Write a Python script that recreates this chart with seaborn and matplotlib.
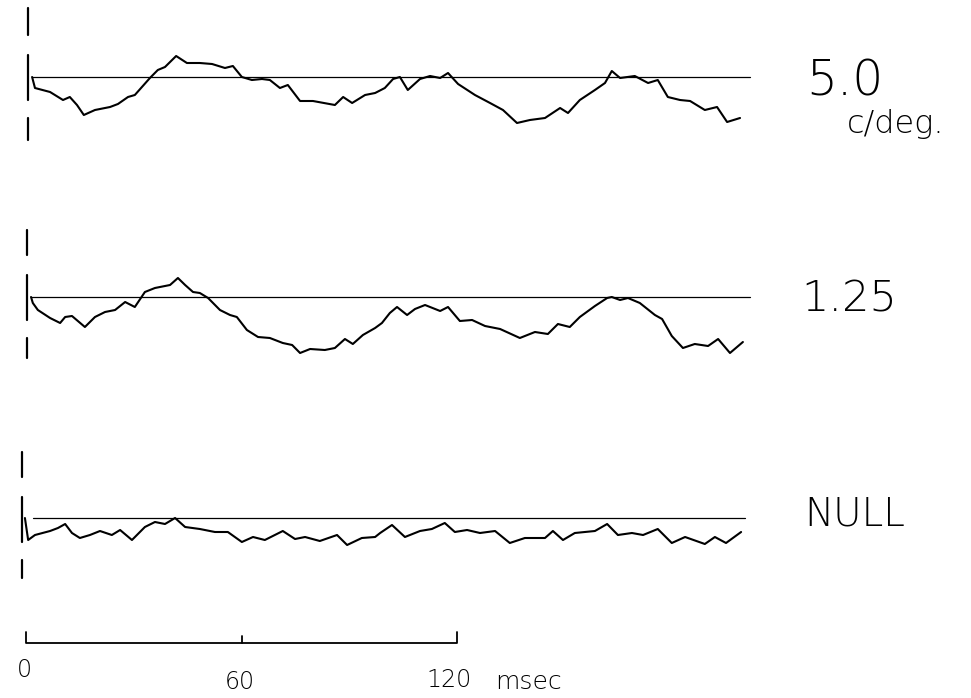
import numpy as np
import pandas as pd
import matplotlib
matplotlib.use("Agg")
import matplotlib.pyplot as plt
import seaborn as sns

# ---- data (time in msec, response amplitude in arbitrary units, up = positive) ----
t_50 = [1.7, 2.5, 6.7, 10.3, 12.2, 14.2, 16.1, 19.2, 23.4, 25.6, 28.4, 30.3, 34.5, 36.7,
        38.7, 41.8, 44.8, 48.4, 51.8, 55.4, 57.6, 60.1, 62.9, 65.7, 67.9, 70.7, 72.9,
        76.3, 79.9, 86.0, 88.3, 90.8, 94.4, 97.2, 99.9, 102.2, 104.1, 106.3, 109.7,
        112.5, 115.3, 117.5, 120.3, 125.0, 129.2, 132.8, 136.7, 140.3, 144.5, 148.7,
        150.9, 154.2, 158.4, 161.2, 163.1, 165.4, 169.5, 173.2, 175.9, 178.7, 182.1,
        184.9, 189.0, 192.4, 195.2, 198.8]
a_50 = [0, -11, -15, -23, -20, -28, -38, -33, -30, -27, -20, -18, -1, 7,
        10, 21, 14, 14, 13, 9, 11, 0, -3, -2, -3, -11, -8,
        -24, -24, -28, -20, -26, -18, -16, -11, -2, 0, -13, -2,
        1, -1, 4, -7, -18, -26, -33, -46, -43, -41, -31,
        -36, -23, -13, -6, 6, -1, 1, -6, -3, -20, -23,
        -24, -33, -30, -45, -41]

t_125 = [1.4, 1.9, 3.3, 6.7, 9.5, 10.9, 12.8, 16.4, 19.2, 22.0, 24.8, 27.6, 30.3, 33.1,
         35.9, 40.1, 42.3, 44.3, 46.5, 48.4, 50.7, 54.0, 56.8, 58.7, 61.5, 64.6, 67.9,
         71.5, 74.1, 76.3, 79.1, 83.2, 86.0, 88.8, 91.0, 93.8, 97.2, 99.1, 101.3, 103.3,
         106.1, 108.3, 111.1, 115.3, 117.5, 120.8, 124.2, 127.8, 132.0, 137.5, 141.7,
         145.3, 148.1, 151.4, 154.2, 158.4, 161.8, 163.1, 165.4, 167.6, 170.9, 175.1,
         177.1, 179.8, 182.9, 186.2, 189.9, 192.7, 196.0, 199.6]
a_125 = [0, -6, -13, -21, -26, -20, -19, -30, -20, -15, -13, -5, -10, 5,
         9, 12, 19, 12, 5, 4, -1, -13, -18, -20, -33, -40, -41,
         -46, -48, -56, -52, -53, -51, -42, -47, -38, -31, -26, -16, -10,
         -18, -12, -8, -14, -10, -24, -23, -29, -32, -41, -35,
         -37, -27, -30, -20, -9, -1, 0, -3, -1, -6, -18,
         -22, -39, -51, -47, -49, -42, -56, -45]

t_null = [-0.3, 0.6, 2.5, 6.7, 8.9, 10.9, 12.8, 15.0, 17.8, 20.6, 23.9, 26.2, 29.5, 33.1,
          35.9, 38.7, 41.5, 44.3, 48.4, 52.6, 56.2, 60.1, 63.2, 66.5, 71.5, 74.9, 77.7,
          81.8, 86.6, 89.4, 93.5, 97.2, 98.6, 101.9, 105.5, 109.7, 113.0, 116.6, 119.4,
          122.8, 126.4, 130.6, 134.7, 138.9, 144.5, 146.7, 149.5, 152.8, 158.4, 161.8,
          164.8, 168.7, 171.8, 175.9, 179.8, 183.5, 189.0, 191.8, 194.9, 199.1]
a_null = [0, -22, -17, -13, -10, -6, -15, -20, -17, -13, -17, -12, -22, -9,
          -4, -6, 0, -9, -11, -14, -14, -24, -19, -22, -13, -21, -19,
          -23, -17, -27, -20, -19, -15, -7, -19, -13, -11, -5, -14,
          -12, -15, -13, -25, -20, -20, -13, -22, -15, -13, -6,
          -17, -15, -17, -11, -25, -19, -26, -19, -25, -14]

labels = ["5.0", "1.25", "NULL"]
scale_ticks = [0, 60, 120]
scale_unit = "msec"

# ---- layout (figure pixel-like vertical units) ----
baselines = [77, 297, 518]
base_ends = [(1.7, 201.6), (1.4, 201.6), (1.9, 200.2)]
mark_x = [0.5, 0.3, -1.0]
marks = [[(8, 35), (55, 100), (118, 140)],
         [(230, 255), (275, 320), (338, 358)],
         [(452, 477), (497, 542), (560, 578)]]
label_y = [81, 299, 514]
label_x = [217.3, 216.0, 216.8]
label_size = [35, 31, 28]

PX = 3.5917  # pixels per msec
x0 = 26

sns.set_theme(style="white")
plt.rcParams['font.family'] = ['DejaVu Sans']

fig = plt.figure(figsize=(9.71, 6.98), dpi=100)
ax = fig.add_axes([0, 0, 1, 1])
ax.set_xlim(-x0 / PX, (971 - x0) / PX)
ax.set_ylim(698, 0)
ax.set_axis_off()

traces = [(t_50, a_50), (t_125, a_125), (t_null, a_null)]
rows = []
for i, (t, a) in enumerate(traces):
    for tt, aa in zip(t, a):
        rows.append({"trace": labels[i], "time": tt, "y": baselines[i] - aa})
df = pd.DataFrame(rows)

for i, lab in enumerate(labels):
    sub = df[df["trace"] == lab]
    sns.lineplot(data=sub, x="time", y="y", ax=ax, color="black", lw=1.5,
                 estimator=None, sort=False, legend=False,
                 solid_joinstyle="round", solid_capstyle="round")
    # baseline
    ax.plot(list(base_ends[i]), [baselines[i], baselines[i]], color="black", lw=0.9)
    # vertical reference marks
    for (ya, yb) in marks[i]:
        ax.plot([mark_x[i], mark_x[i]], [ya, yb], color="black", lw=1.6)
    ax.text(label_x[i], label_y[i], lab, fontsize=label_size[i], ha="left",
            va="center", color="black", fontweight="light")

ax.text(228.5, 124, "c/deg.", fontsize=23, ha="left", va="center", color="black",
        fontweight="light")

# scale bar
bar_y = 643
ax.plot([scale_ticks[0], scale_ticks[0], scale_ticks[-1], scale_ticks[-1]],
        [632, bar_y, bar_y, 632], color="black", lw=1.3)
ax.plot([scale_ticks[1], scale_ticks[1]], [636, bar_y], color="black", lw=1.3)
tick_label_y = [670, 682, 680]
tick_label_x = [-0.3, 59.6, 117.8]
for tk, tx, ty in zip(scale_ticks, tick_label_x, tick_label_y):
    ax.text(tx, ty, str(tk), fontsize=17, ha="center", va="center",
            color="black", fontweight="light")
ax.text(130.5, 682, scale_unit, fontsize=18, ha="left", va="center", color="black",
        fontweight="light")

fig.savefig("out.png", dpi=100, facecolor="white")
